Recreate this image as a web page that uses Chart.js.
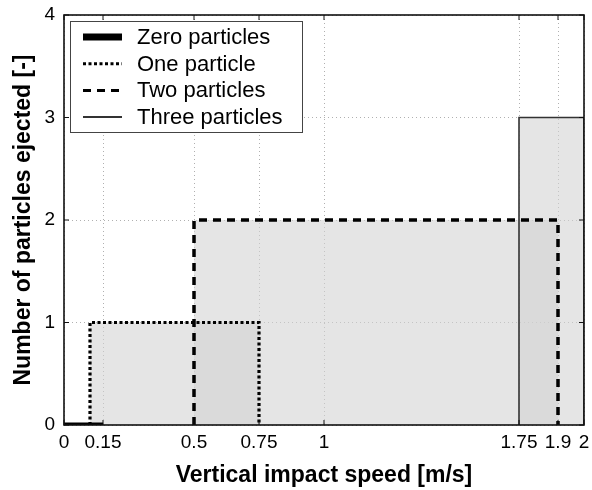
<!DOCTYPE html>
<html><head><meta charset="utf-8">
<script src="https://cdn.jsdelivr.net/npm/chart.js@4"></script>
<style>html,body{margin:0;padding:0;background:#fff}</style>
</head><body>
<canvas id="c" width="592" height="490" style="display:block;width:592px;height:490px"></canvas>
<script>
// ---- data ----
const xTicks = [0, 0.15, 0.5, 0.75, 1, 1.75, 1.9, 2];
const yTicks = [0, 1, 2, 3, 4];
const seriesNames = ['Zero particles', 'One particle', 'Two particles', 'Three particles'];
const zeroX = [0, 0.15];            const zeroY = [0, 0];
const oneX = [0.1, 0.1, 0.75, 0.75]; const oneY = [0, 1, 1, 0];
const twoX = [0.5, 0.5, 1.9, 1.9];   const twoY = [0, 2, 2, 0];
const threeX = [1.75, 1.75, 2, 2];   const threeY = [0, 3, 3, 0];
const xTitle = 'Vertical impact speed [m/s]';
const yTitle = 'Number of particles ejected [-]';

const pts = (xs, ys) => xs.map((x, i) => ({x: x, y: ys[i]}));
const FONT = '"Liberation Sans", Arial, Helvetica, sans-serif';
const FILL = 'rgba(210,210,210,0.58)';

const datasets = [
  {label: seriesNames[0], data: pts(zeroX, zeroY), borderColor: '#000', borderWidth: 5, fill: false, legendWidth: 7},
  {label: seriesNames[1], data: pts(oneX, oneY), borderColor: '#000', borderWidth: 3.2, borderDash: [3, 2.5], fill: 'origin', backgroundColor: FILL, legendWidth: 3, legendDash: [3, 2.5]},
  {label: seriesNames[2], data: pts(twoX, twoY), borderColor: '#000', borderWidth: 3.5, borderDash: [8, 6], fill: 'origin', backgroundColor: FILL, legendWidth: 3, legendDash: [8, 6]},
  {label: seriesNames[3], data: pts(threeX, threeY), borderColor: '#333', borderWidth: 1.6, fill: 'origin', backgroundColor: FILL, legendWidth: 2}
];
datasets.forEach(d => { d.pointRadius = 0; d.tension = 0; d.borderCapStyle = 'butt'; d.borderJoinStyle = 'miter'; });

const framePlugin = {
  id: 'frame',
  afterDatasetsDraw(chart) {
    const {ctx, chartArea: a, scales: {x, y}} = chart;
    ctx.save();
    ctx.strokeStyle = '#111';
    ctx.lineWidth = 1.6;
    ctx.setLineDash([]);
    ctx.strokeRect(a.left, a.top, a.right - a.left, a.bottom - a.top);
    ctx.lineWidth = 1;
    const L = 5;
    ctx.beginPath();
    xTicks.forEach(v => {
      const px = x.getPixelForValue(v);
      ctx.moveTo(px, a.bottom); ctx.lineTo(px, a.bottom - L);
      ctx.moveTo(px, a.top); ctx.lineTo(px, a.top + L);
    });
    yTicks.forEach(v => {
      const py = y.getPixelForValue(v);
      ctx.moveTo(a.left, py); ctx.lineTo(a.left + L, py);
      ctx.moveTo(a.right, py); ctx.lineTo(a.right - L, py);
    });
    ctx.stroke();
    ctx.restore();
  }
};

const legendPlugin = {
  id: 'boxLegend',
  afterDraw(chart) {
    const {ctx, chartArea: a} = chart;
    const bx = a.left + 6, by = a.top + 6, bw = 232, bh = 111;
    ctx.save();
    ctx.fillStyle = '#fff';
    ctx.fillRect(bx, by, bw, bh);
    ctx.strokeStyle = '#444';
    ctx.lineWidth = 1;
    ctx.strokeRect(bx + 0.5, by + 0.5, bw, bh);
    ctx.font = '22px ' + FONT;
    ctx.textBaseline = 'middle';
    ctx.fillStyle = '#000';
    chart.data.datasets.forEach((d, i) => {
      const cy = by + 16 + i * 26.7;
      ctx.beginPath();
      ctx.setLineDash(d.legendDash || []);
      ctx.lineWidth = d.legendWidth;
      ctx.strokeStyle = d.borderColor;
      ctx.lineCap = 'butt';
      ctx.moveTo(bx + 13, cy);
      ctx.lineTo(bx + 52, cy);
      ctx.stroke();
      ctx.setLineDash([]);
      ctx.fillText(d.label, bx + 67, cy + 1);
    });
    ctx.restore();
  }
};

new Chart(document.getElementById('c'), {
  type: 'line',
  data: {datasets: datasets},
  plugins: [framePlugin, legendPlugin],
  options: {
    responsive: false,
    animation: false,
    devicePixelRatio: 1,
    layout: {padding: {top: 15, right: 8, left: 0, bottom: 0}},
    plugins: {
      legend: {display: false},
      tooltip: {enabled: false},
      filler: {drawTime: 'beforeDatasetsDraw'}
    },
    scales: {
      x: {
        type: 'linear', min: 0, max: 2,
        afterBuildTicks: s => { s.ticks = xTicks.map(v => ({value: v})); },
        afterFit: s => { s.height = 65; s.paddingLeft = 0; s.paddingRight = 0; },
        ticks: {autoSkip: false, maxRotation: 0, minRotation: 0, padding: 6, color: '#000',
                font: {family: FONT, size: 19}, callback: v => String(+(+v).toFixed(2))},
        grid: {color: '#b0b0b0', lineWidth: 1, drawTicks: false},
        border: {display: false, dash: [1, 3]},
        title: {display: true, text: xTitle, color: '#000', font: {family: FONT, size: 23, weight: 'bold'}, padding: {top: 0, bottom: 1}}
      },
      y: {
        type: 'linear', min: 0, max: 4,
        afterBuildTicks: s => { s.ticks = yTicks.map(v => ({value: v})); },
        afterFit: s => { s.width = 64; s.paddingTop = 0; s.paddingBottom = 0; },
        ticks: {padding: 9, color: '#000', font: {family: FONT, size: 19}, callback: v => String(v)},
        grid: {color: '#b0b0b0', lineWidth: 1, drawTicks: false},
        border: {display: false, dash: [1, 3]},
        title: {display: true, text: yTitle, color: '#000', font: {family: FONT, size: 23, weight: 'bold'}, padding: {top: 10, bottom: 0}}
      }
    }
  }
});
</script>
</body></html>
